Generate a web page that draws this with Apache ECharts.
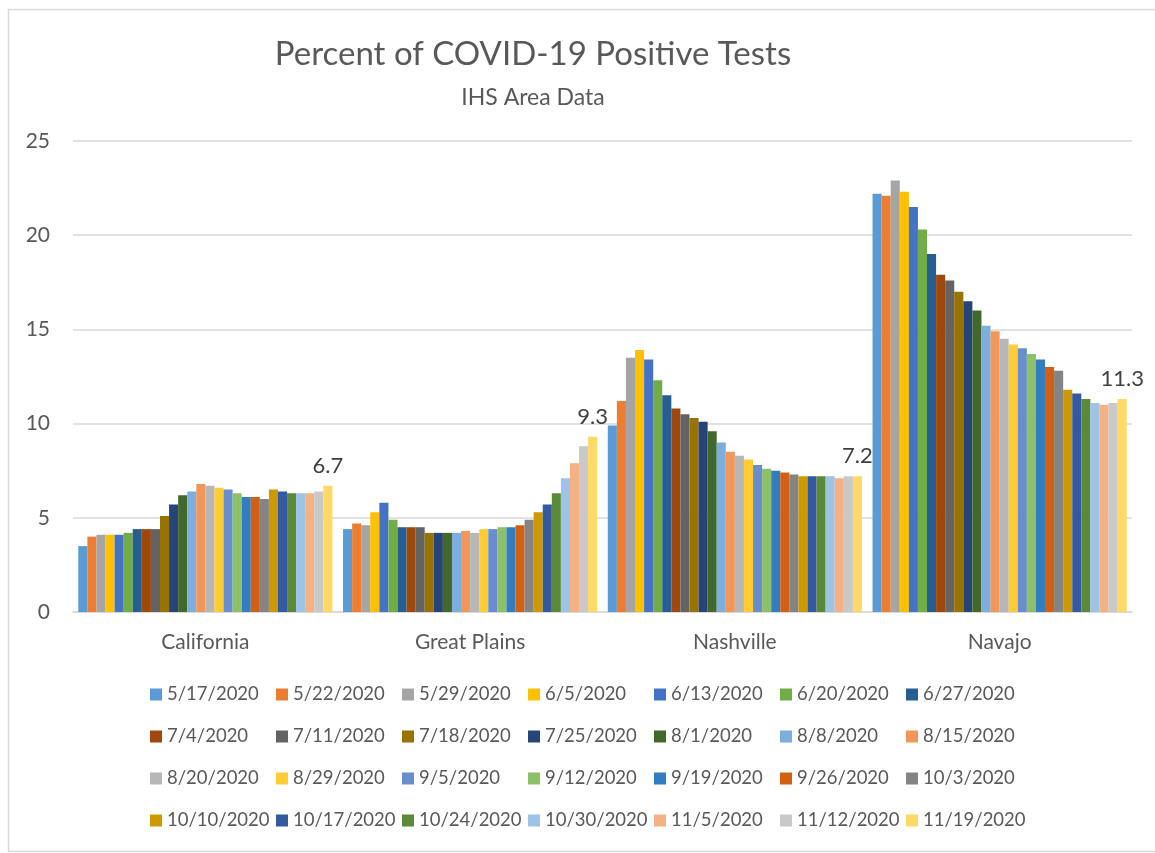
<!DOCTYPE html>
<html>
<head>
<meta charset="utf-8">
<title>Percent of COVID-19 Positive Tests</title>
<script src="https://cdn.jsdelivr.net/npm/echarts@6/dist/echarts.min.js"></script>
<style>
  html, body { margin: 0; padding: 0; background: #fff; }
  #chart { width: 1155px; height: 853px; }
</style>
</head>
<body>
<div id="chart"></div>
<script>
const areas = ['California', 'Great Plains', 'Nashville', 'Navajo'];

const dates = [
  '5/17/2020', '5/22/2020', '5/29/2020', '6/5/2020', '6/13/2020', '6/20/2020', '6/27/2020',
  '7/4/2020', '7/11/2020', '7/18/2020', '7/25/2020', '8/1/2020', '8/8/2020', '8/15/2020',
  '8/20/2020', '8/29/2020', '9/5/2020', '9/12/2020', '9/19/2020', '9/26/2020', '10/3/2020',
  '10/10/2020', '10/17/2020', '10/24/2020', '10/30/2020', '11/5/2020', '11/12/2020', '11/19/2020'
];

// one value per date, per area
const california = [3.5, 4.0, 4.1, 4.1, 4.1, 4.2, 4.4, 4.4, 4.4, 5.1, 5.7, 6.2, 6.4, 6.8,
  6.7, 6.6, 6.5, 6.3, 6.1, 6.1, 6.0, 6.5, 6.4, 6.3, 6.3, 6.3, 6.4, 6.7];
const greatPlains = [4.4, 4.7, 4.6, 5.3, 5.8, 4.9, 4.5, 4.5, 4.5, 4.2, 4.2, 4.2, 4.2, 4.3,
  4.2, 4.4, 4.4, 4.5, 4.5, 4.6, 4.9, 5.3, 5.7, 6.3, 7.1, 7.9, 8.8, 9.3];
const nashville = [9.9, 11.2, 13.5, 13.9, 13.4, 12.3, 11.5, 10.8, 10.5, 10.3, 10.1, 9.6, 9.0, 8.5,
  8.3, 8.1, 7.8, 7.6, 7.5, 7.4, 7.3, 7.2, 7.2, 7.2, 7.2, 7.1, 7.2, 7.2];
const navajo = [22.2, 22.1, 22.9, 22.3, 21.5, 20.3, 19.0, 17.9, 17.6, 17.0, 16.5, 16.0, 15.2, 14.9,
  14.5, 14.2, 14.0, 13.7, 13.4, 13.0, 12.8, 11.8, 11.6, 11.3, 11.1, 11.0, 11.1, 11.3];

const yTicks = [0, 5, 10, 15, 20, 25];

const palette = [
  '#5B9BD5', '#ED7D31', '#A5A5A5', '#FFC000', '#4472C4', '#70AD47', '#255E91',
  '#9E480E', '#636363', '#997300', '#264478', '#43682B', '#7CAFDD', '#F1975A',
  '#B7B7B7', '#FFCD33', '#698ED0', '#8CC168', '#327DC2', '#D26012', '#848484',
  '#CC9A00', '#335AA1', '#5A8A39', '#9DC3E6', '#F4B183', '#C9C9C9', '#FFD966'
];

const font = 'Lato, "Noto Sans", sans-serif';
const textGrey = '#595959';

const getOption = () => {
  const byArea = [california, greatPlains, nashville, navajo];
  const series = dates.map((d, i) => ({
    name: d,
    type: 'bar',
    barGap: '0%',
    barCategoryGap: '4%',
    data: byArea.map(a => a[i]),
    label: {
      show: i === dates.length - 1,
      position: 'top',
      distance: 9,
      color: '#404040',
      fontFamily: font,
      fontSize: 22
    }
  }));

  return {
    color: palette,
    animation: false,
    title: [{
      text: 'Percent of COVID-19 Positive Tests',
      left: 528,
      top: 33,
      textAlign: 'center',
      textStyle: { color: textGrey, fontFamily: font, fontSize: 33, fontWeight: 'normal' }
    }, {
      text: 'IHS Area Data',
      left: 528,
      top: 81,
      textAlign: 'center',
      textStyle: { color: textGrey, fontFamily: font, fontSize: 23, fontWeight: 'normal' }
    }],
    graphic: [{
      type: 'rect',
      shape: { x: 8.5, y: 9.5, width: 1160, height: 842 },
      style: { fill: 'none', stroke: '#d9d9d9', lineWidth: 1.5 },
      silent: true
    }],
    grid: { left: 73, right: 23, top: 141, bottom: 241 },
    xAxis: {
      type: 'category',
      data: areas,
      axisTick: { show: false },
      axisLine: { lineStyle: { color: '#d9d9d9', width: 1.5 } },
      axisLabel: { color: textGrey, fontFamily: font, fontSize: 21, margin: 20 }
    },
    yAxis: {
      type: 'value',
      min: yTicks[0],
      max: yTicks[yTicks.length - 1],
      interval: 5,
      axisLine: { show: false },
      axisTick: { show: false },
      splitLine: { lineStyle: { color: '#d9d9d9', width: 1.5 } },
      axisLabel: { color: textGrey, fontFamily: font, fontSize: 21, margin: 23 }
    },
    legend: {
      data: dates,
      left: 150,
      top: 676,
      width: 900,
      padding: 0,
      itemGap: 5,
      itemWidth: 12,
      itemHeight: 12,
      icon: 'rect',
      textStyle: { color: textGrey, fontFamily: font, fontSize: 18.5, width: 104, lineHeight: 37 }
    },
    series: series
  };
};

const initChart = () => {
  const chart = echarts.init(document.getElementById('chart'));
  chart.setOption(getOption());
};

window.addEventListener('load', initChart);
</script>
</body>
</html>
